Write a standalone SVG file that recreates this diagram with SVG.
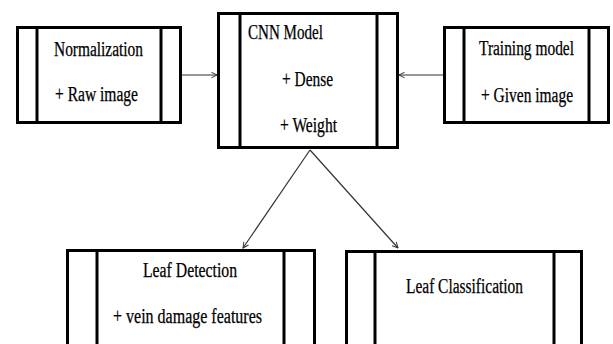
<svg xmlns="http://www.w3.org/2000/svg" width="613" height="344" viewBox="0 0 613 344">
<defs>
<style>
.box{fill:#fff;stroke:#000;stroke-width:3}
.bar{stroke:#000;stroke-width:3}
.t{font-family:"Liberation Serif","Times New Roman","DejaVu Serif",serif;font-size:20px;fill:#000;stroke:#000;stroke-width:0.25}
.c{stroke:#333;stroke-width:1.2;fill:none}
</style>
<marker id="ah" viewBox="0 0 10 10" refX="9" refY="5" markerWidth="7" markerHeight="7" orient="auto" markerUnits="userSpaceOnUse">
<path d="M1,1 L9,5 L1,9" fill="none" stroke="#333" stroke-width="1.4"/>
</marker>
</defs>
<rect width="613" height="344" fill="#fff"/>
<g id="connectors">
<line class="c" x1="182" y1="75" x2="217" y2="75" marker-end="url(#ah)"/>
<line class="c" x1="443" y1="75" x2="399" y2="75" marker-end="url(#ah)"/>
<line class="c" x1="310" y1="150" x2="243" y2="248" marker-end="url(#ah)"/>
<line class="c" x1="310" y1="150" x2="398" y2="248" marker-end="url(#ah)"/>
</g>
<g id="normalization">
<rect class="box" x="17.5" y="27.5" width="163" height="95"/>
<line class="bar" x1="37" y1="27.5" x2="37" y2="122.5"/>
<line class="bar" x1="161" y1="27.5" x2="161" y2="122.5"/>
<text class="t" x="54" y="56" textLength="89" lengthAdjust="spacingAndGlyphs">Normalization</text>
<text class="t" x="55" y="101" textLength="83" lengthAdjust="spacingAndGlyphs">+ Raw image</text>
</g>
<g id="cnn">
<rect class="box" x="218.5" y="13.5" width="179" height="134"/>
<line class="bar" x1="240" y1="13.5" x2="240" y2="147.5"/>
<line class="bar" x1="377" y1="13.5" x2="377" y2="147.5"/>
<text class="t" x="248" y="39" textLength="75" lengthAdjust="spacingAndGlyphs">CNN Model</text>
<text class="t" x="282" y="86" textLength="51" lengthAdjust="spacingAndGlyphs">+ Dense</text>
<text class="t" x="280" y="132" textLength="57" lengthAdjust="spacingAndGlyphs">+ Weight</text>
</g>
<g id="training">
<rect class="box" x="444.5" y="27.5" width="164" height="95"/>
<line class="bar" x1="464" y1="27.5" x2="464" y2="122.5"/>
<line class="bar" x1="589" y1="27.5" x2="589" y2="122.5"/>
<text class="t" x="479" y="55" textLength="95" lengthAdjust="spacingAndGlyphs">Training model</text>
<text class="t" x="481" y="102" textLength="92" lengthAdjust="spacingAndGlyphs">+ Given image</text>
</g>
<g id="detection">
<rect class="box" x="67.5" y="250.5" width="247" height="100"/>
<line class="bar" x1="97" y1="250.5" x2="97" y2="350"/>
<line class="bar" x1="284" y1="250.5" x2="284" y2="350"/>
<text class="t" x="143" y="277" textLength="94" lengthAdjust="spacingAndGlyphs">Leaf Detection</text>
<text class="t" x="113" y="323" textLength="149" lengthAdjust="spacingAndGlyphs">+ vein damage features</text>
</g>
<g id="classification">
<rect class="box" x="346.5" y="251.5" width="235" height="100"/>
<line class="bar" x1="375" y1="251.5" x2="375" y2="350"/>
<line class="bar" x1="554" y1="251.5" x2="554" y2="350"/>
<text class="t" x="406" y="293" textLength="117" lengthAdjust="spacingAndGlyphs">Leaf Classification</text>
</g>
</svg>
